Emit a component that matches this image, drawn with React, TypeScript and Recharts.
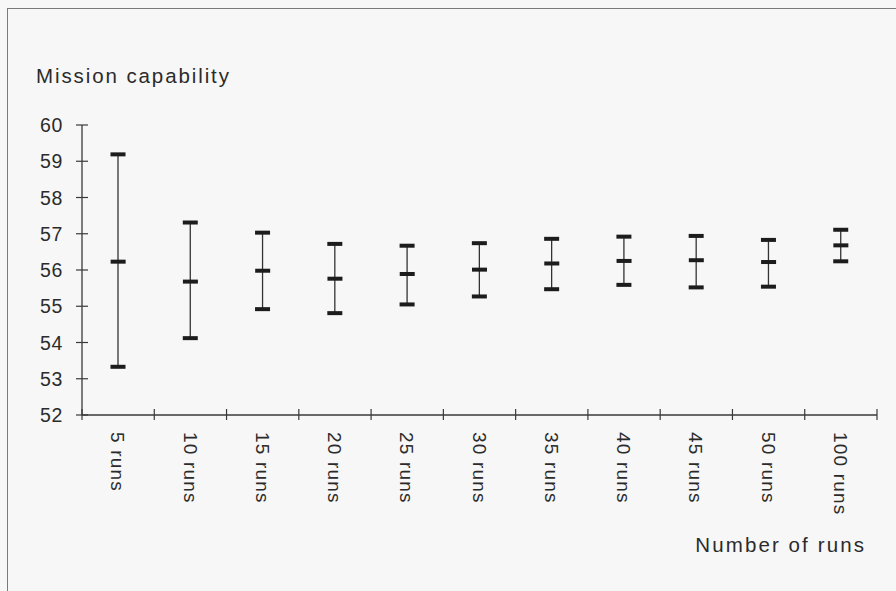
import React from 'react';
import { ComposedChart, Bar, Line, XAxis, YAxis } from 'recharts';

const categories = ['5 runs', '10 runs', '15 runs', '20 runs', '25 runs', '30 runs', '35 runs', '40 runs', '45 runs', '50 runs', '100 runs'];
const maxValues = [59.19, 57.31, 57.03, 56.72, 56.67, 56.74, 56.86, 56.92, 56.94, 56.83, 57.11];
const meanValues = [56.23, 55.68, 55.98, 55.76, 55.89, 56.01, 56.18, 56.25, 56.27, 56.22, 56.68];
const minValues = [53.33, 54.12, 54.92, 54.81, 55.05, 55.27, 55.47, 55.59, 55.52, 55.54, 56.24];
const yTicks = [52, 53, 54, 55, 56, 57, 58, 59, 60];

const data = categories.map((label, i) => ({
  label,
  range: [minValues[i], maxValues[i]],
  mean: meanValues[i],
}));

const FONT = '"Liberation Sans", Arial, sans-serif';
const TEXT = '#2b2b2b';
const AXIS = '#3a3a3a';
const MARK = '#1c1c1c';

const YTick = (props: any) => {
  const { x, y, payload } = props;
  return (
    <g>
      <line x1={x - 6} x2={x + 6} y1={y} y2={y} stroke={AXIS} strokeWidth={1.2} />
      <text x={x - 19} y={y} dy="0.36em" textAnchor="end" fill={TEXT} fontFamily={FONT} fontSize={19.5} letterSpacing={0.6}>
        {payload.value}
      </text>
    </g>
  );
};

const XTick = (props: any) => {
  const { x, y, payload, index, visibleTicksCount } = props;
  const half = payload && payload.offset ? payload.offset : 36.1;
  const last = index === (visibleTicksCount ?? categories.length) - 1;
  return (
    <g>
      <line x1={x - half} x2={x - half} y1={y - 6} y2={y + 5} stroke={AXIS} strokeWidth={1.2} />
      {last && <line x1={x + half} x2={x + half} y1={y - 6} y2={y + 5} stroke={AXIS} strokeWidth={1.2} />}
      <text
        transform={`translate(${x},${y + 17}) rotate(90)`}
        x={0}
        y={0}
        dy="0.36em"
        textAnchor="start"
        fill={TEXT}
        fontFamily={FONT}
        fontSize={19}
        letterSpacing={1.2}
      >
        {payload.value}
      </text>
    </g>
  );
};

const RangeShape = (props: any) => {
  const { x, y, width, height } = props;
  const cx = x + width / 2;
  const top = Math.min(y, y + height);
  const bottom = Math.max(y, y + height);
  return (
    <g>
      <line x1={cx} x2={cx} y1={top} y2={bottom} stroke="#333" strokeWidth={1.3} />
      <rect x={cx - 7.5} y={top - 2} width={15} height={4} fill={MARK} />
      <rect x={cx - 7.5} y={bottom - 2} width={15} height={4} fill={MARK} />
    </g>
  );
};

const MeanDot = (props: any) => {
  const { cx, cy } = props;
  if (cx == null || cy == null) return null;
  return <rect x={cx - 7.5} y={cy - 2} width={15} height={4} fill={MARK} />;
};

export default function App() {
  return (
    <div style={{ position: 'absolute', left: 0, top: 0, width: 896, height: 591, background: '#f7f7f7', overflow: 'hidden' }}>
      <div style={{ position: 'absolute', left: 7, top: 8, width: 950, height: 650, border: '1.5px solid #7a7a7a', boxSizing: 'border-box' }} />
      <div style={{ position: 'absolute', left: 0, top: 0 }}>
        <ComposedChart width={896} height={591} data={data} margin={{ top: 125, right: 19, bottom: 76, left: 32 }}>
          <XAxis
            dataKey="label"
            type="category"
            height={100}
            tickLine={false}
            tickSize={0}
            tickMargin={0}
            axisLine={{ stroke: AXIS, strokeWidth: 1.3 }}
            tick={<XTick />}
            interval={0}
          />
          <YAxis
            type="number"
            domain={[52, 60]}
            ticks={yTicks}
            width={50}
            tickLine={false}
            tickSize={0}
            tickMargin={0}
            axisLine={{ stroke: AXIS, strokeWidth: 1.3 }}
            tick={<YTick />}
            interval={0}
            allowDataOverflow
          />
          <Bar dataKey="range" barSize={16} shape={<RangeShape />} isAnimationActive={false} />
          <Line dataKey="mean" stroke="none" dot={<MeanDot />} activeDot={false} isAnimationActive={false} />
        </ComposedChart>
      </div>
      <svg style={{ position: 'absolute', left: 0, top: 0, pointerEvents: 'none' }} width={896} height={591}>
        <text x={36} y={83} fill={TEXT} fontFamily={FONT} fontSize={20.5} letterSpacing={1.9}>Mission capability</text>
        <text x={866} y={552} textAnchor="end" fill={TEXT} fontFamily={FONT} fontSize={20.5} letterSpacing={2.1}>Number of runs</text>
      </svg>
    </div>
  );
}
